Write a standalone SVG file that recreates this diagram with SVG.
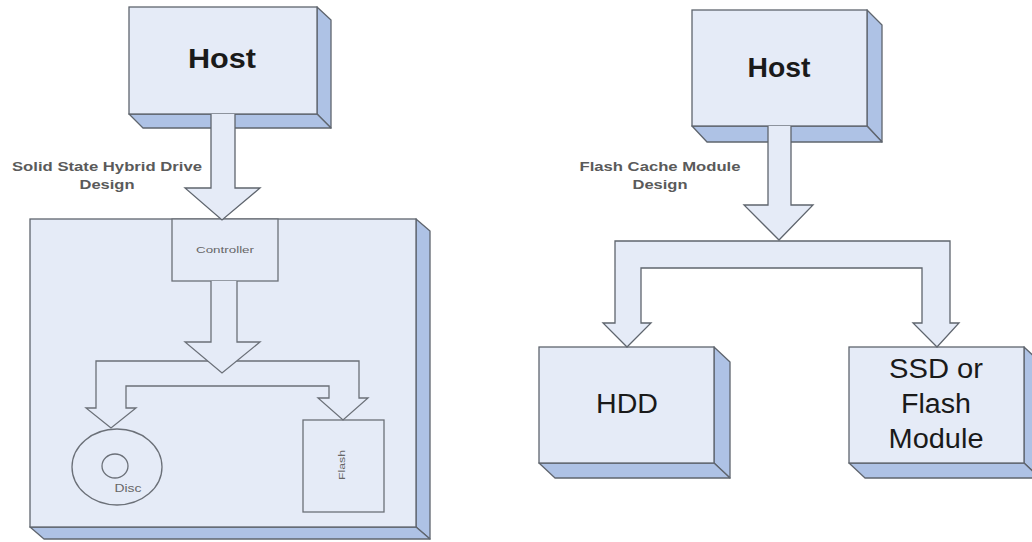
<svg xmlns="http://www.w3.org/2000/svg" width="1032" height="542" viewBox="0 0 1032 542">
<style>
.front{fill:#e5ebf7;stroke:#5f656e;stroke-width:1.3}
.side{fill:#aec2e5;stroke:#5f656e;stroke-width:1.3;stroke-linejoin:round}
.arrow{fill:#e5ebf7;stroke:#5f656e;stroke-width:1.3;stroke-linejoin:miter}
.inner{fill:none;stroke:#6b7078;stroke-width:1.3}
.big{font-family:"Liberation Sans",Arial,sans-serif;font-size:27px;fill:#1a1a1a;text-anchor:middle}
.bold{font-weight:bold}
.lbl{font-family:"Liberation Sans",Arial,sans-serif;font-size:13px;font-weight:bold;fill:#5a5a5a;text-anchor:middle}
.small{font-family:"Liberation Sans",Arial,sans-serif;font-size:9px;fill:#666;text-anchor:middle}
</style>
<rect width="1032" height="542" fill="#ffffff"/>

<g id="host-left">
<polygon class="side" points="317,7 331,20 331,128 317,114"/>
<polygon class="side" points="129,114 317,114 331,128 143,128"/>
<rect class="front" x="129" y="7" width="188" height="107"/>
<text class="big bold" x="222" y="68" textLength="68" lengthAdjust="spacingAndGlyphs">Host</text>
</g>

<g id="sshd">
<polygon class="side" points="416,219 430,231 430,539 416,527"/>
<polygon class="side" points="30,527 416,527 430,539 44,539"/>
<rect class="front" x="30" y="219" width="386" height="308"/>
</g>

<g id="controller">
<rect class="front" x="172" y="219" width="106" height="62" style="stroke:#6b7078"/>
<text class="small" x="225" y="253" textLength="58" lengthAdjust="spacingAndGlyphs">Controller</text>
</g>

<g id="disc">
<ellipse class="inner" cx="117" cy="467" rx="45" ry="38"/>
<ellipse class="inner" cx="115" cy="466" rx="13" ry="12"/>
<text class="small" x="128" y="492" style="font-size:10px" textLength="27" lengthAdjust="spacingAndGlyphs">Disc</text>
</g>

<g id="flash">
<rect class="inner" x="303" y="420" width="81" height="92"/>
<text class="small" x="0" y="0" transform="translate(345,465) rotate(-90)" textLength="30" lengthAdjust="spacingAndGlyphs">Flash</text>
</g>

<g id="host-right">
<polygon class="side" points="867,10 882,25 882,142 867,126"/>
<polygon class="side" points="692,126 867,126 882,142 707,142"/>
<rect class="front" x="692" y="10" width="175" height="116"/>
<text class="big bold" x="779" y="77" textLength="63" lengthAdjust="spacingAndGlyphs">Host</text>
</g>

<g id="hdd">
<polygon class="side" points="714,347 730,362 730,478 714,463"/>
<polygon class="side" points="539,463 714,463 730,478 555,478"/>
<rect class="front" x="539" y="347" width="175" height="116"/>
<text class="big" x="627" y="413" textLength="62" lengthAdjust="spacingAndGlyphs">HDD</text>
</g>

<g id="ssd">
<polygon class="side" points="1024,347 1040,362 1040,478 1024,463"/>
<polygon class="side" points="849,463 1024,463 1040,478 865,478"/>
<rect class="front" x="849" y="347" width="175" height="116"/>
<text class="big" x="936" y="378" textLength="94" lengthAdjust="spacingAndGlyphs">SSD or</text>
<text class="big" x="936" y="413" textLength="70" lengthAdjust="spacingAndGlyphs">Flash</text>
<text class="big" x="936" y="448" textLength="95" lengthAdjust="spacingAndGlyphs">Module</text>
</g>

<g id="connectors">
<path class="arrow" d="M211,114 L211,188 L185,188 L222,220 L260,188 L235,188 L235,114"/>
<path class="arrow" style="stroke:#6b7078" d="M96,361 L359,361 L359,398 L368,398 L343,420 L318,398 L329,398 L329,386 L126,386 L126,408 L136,408 L111,428 L86,408 L96,408 Z"/>
<path class="arrow" style="stroke:#6b7078" d="M211,281 L211,342 L185,342 L222,373 L260,342 L237,342 L237,281"/>
<path class="arrow" d="M615,241 L950,241 L950,323 L959,323 L937,347 L913,323 L922,323 L922,268 L641,268 L641,323 L651,323 L627,347 L603,323 L615,323 Z"/>
<path class="arrow" d="M768,126 L768,205 L744,205 L779,240 L813,205 L791,205 L791,126"/>
</g>

<g id="labels">
<text class="lbl" x="107" y="171" textLength="190" lengthAdjust="spacingAndGlyphs">Solid State Hybrid Drive</text>
<text class="lbl" x="107" y="189" textLength="55" lengthAdjust="spacingAndGlyphs">Design</text>
<text class="lbl" x="660" y="171" textLength="161" lengthAdjust="spacingAndGlyphs">Flash Cache Module</text>
<text class="lbl" x="660" y="189" textLength="55" lengthAdjust="spacingAndGlyphs">Design</text>
</g>
</svg>
